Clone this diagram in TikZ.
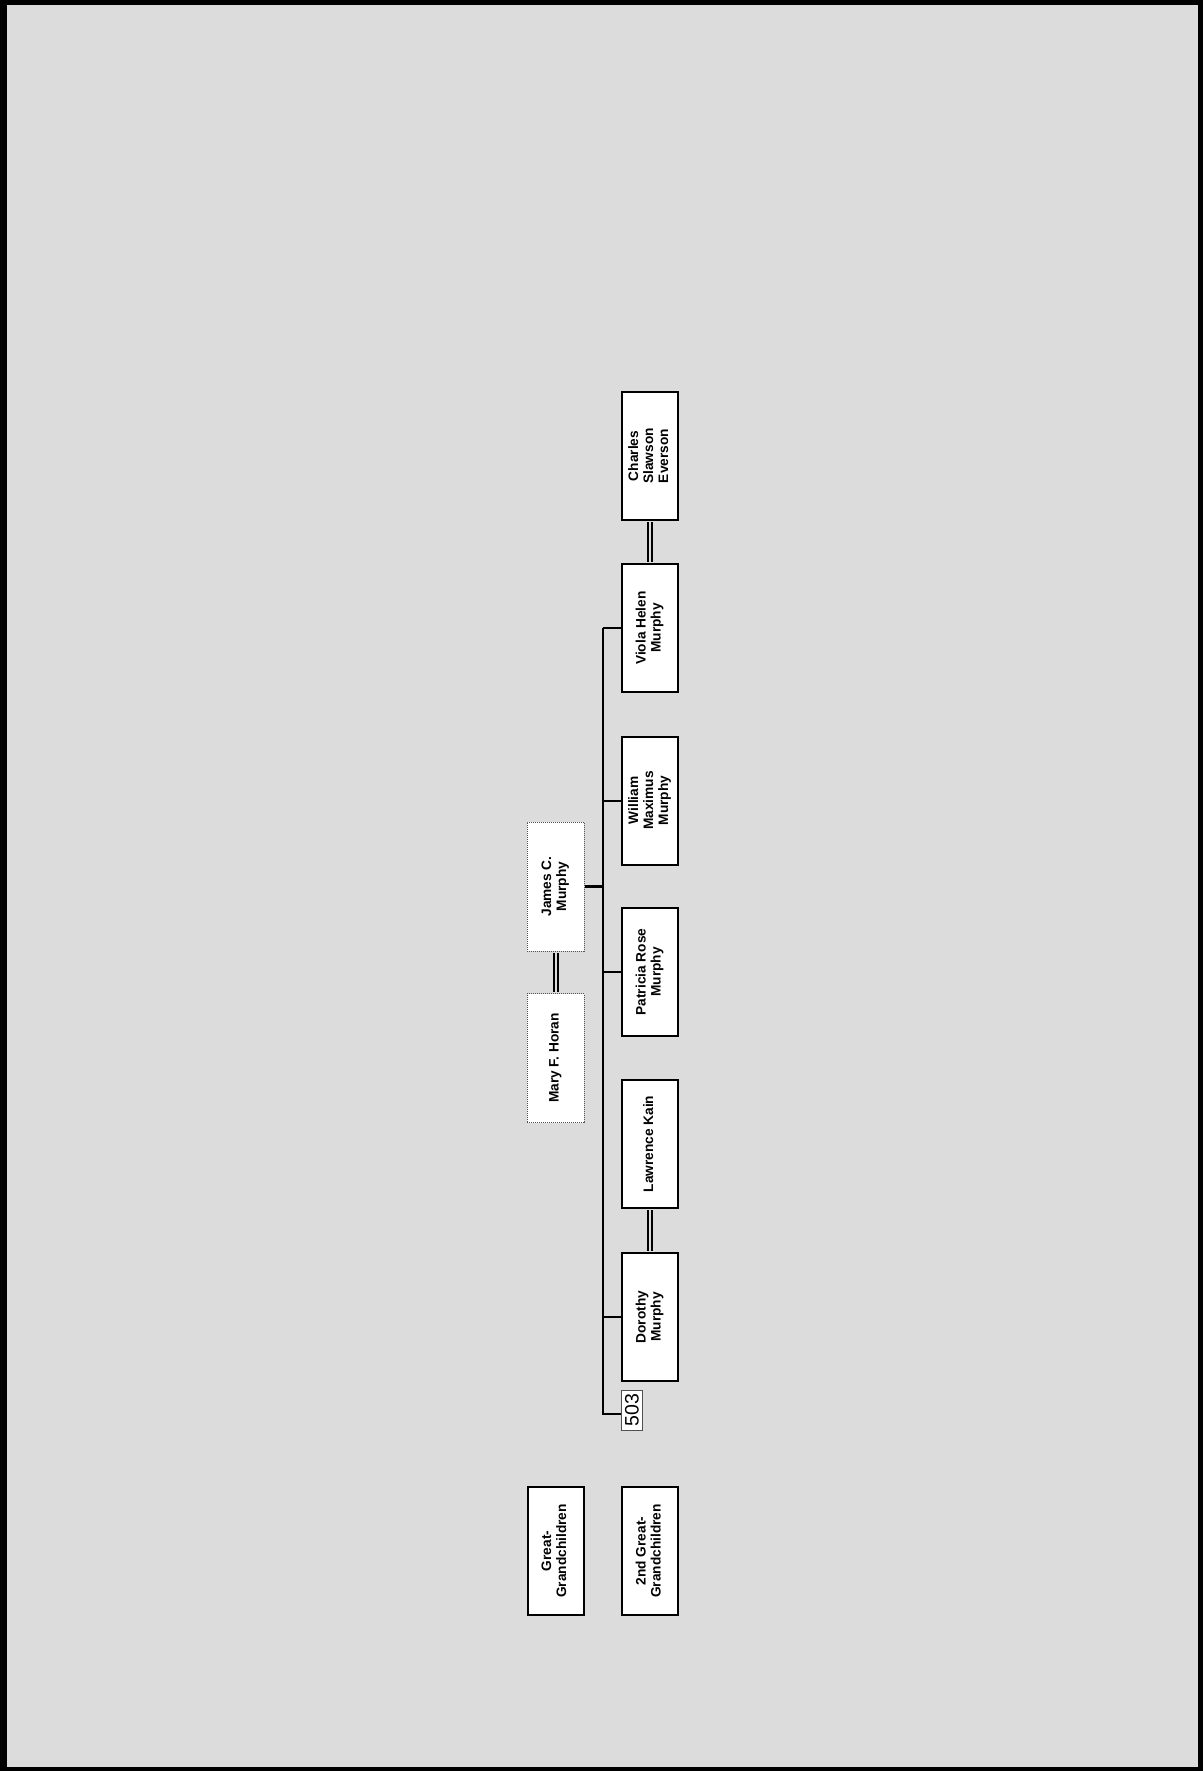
\documentclass[tikz,border=0pt]{standalone}
\usepackage{fontspec}
\setmainfont{Liberation Sans}
\usepackage{graphicx}
\usepackage{xcolor}
\usetikzlibrary{positioning,calc}
\definecolor{panelgray}{RGB}{220,220,220}
\definecolor{dotgray}{RGB}{80,80,80}
\newcommand\vlab[1]{\rotatebox{90}{\begin{tabular}{@{}c@{}}#1\end{tabular}}}
\tikzset{
  person/.style   = {draw, line width=2pt, fill=white, rectangle, inner sep=0pt,
                     minimum width=56pt, minimum height=128pt,
                     font=\fontsize{13.7}{15}\selectfont\bfseries},
  ancestor/.style = {person, draw=dotgray, line width=1pt, densely dotted,
                     minimum width=57pt, minimum height=129pt},
  idbox/.style    = {draw=dotgray, line width=1pt, fill=white, inner sep=0pt,
                     minimum width=21pt, minimum height=40pt,
                     font=\fontsize{19.5}{20}\selectfont},
  kin/.style      = {line width=2pt},
  wed/.style      = {draw=black, line width=2pt, double=panelgray, double distance=2pt,
                     shorten <=1pt, shorten >=1pt},
}

\begin{document}
\begin{tikzpicture}[x=1pt,y=-1pt]
\useasboundingbox (0,0) rectangle (1203,1771);
% frame
\fill[black] (0,0) rectangle (1203,1771);
\fill[panelgray] (7,5) rectangle (1198,1767);

% parents
\node[ancestor] (james) at (555.5,886.5) {\vlab{James C.\\Murphy}};
\node[ancestor] (mary) at (555.5,1058) {\vlab{Mary F. Horan}};

% children and spouses
\node[person] (charles) at (650,456) {\vlab{Charles\\Slawson\\Everson}};
\node[person] (viola) at (650,628) {\vlab{Viola Helen\\Murphy}};
\node[person] (william) at (650,800.5) {\vlab{William\\Maximus\\Murphy}};
\node[person] (patricia) at (650,972) {\vlab{Patricia Rose\\Murphy}};
\node[person] (lawrence) at (650,1144) {\vlab{Lawrence Kain}};
\node[person] (dorothy) at (650,1317) {\vlab{Dorothy\\Murphy}};
\node[idbox] (n503) at (632,1410) {\rotatebox{90}{503}};

% generation labels
\node[person] (gg) at (555.5,1551) {\vlab{Great-\\Grandchildren}};
\node[person] (ggg) at (650,1551) {\vlab{2nd Great-\\Grandchildren}};

% family lines
\coordinate (trunk) at (603,886.5);
\coordinate (tail) at (603,1414);
\draw[wed] (james.south) -- (mary.north);
\draw[wed] (charles.south) -- (viola.north);
\draw[wed] (lawrence.south) -- (dorothy.north);
\draw[line width=3pt] (james.east) -- (trunk);
\draw[kin] (trunk |- viola.west) -- (tail) -- (tail -| n503.west);
\draw[kin] (trunk |- viola.west) -- (viola.west);
\draw[kin] (trunk |- william.west) -- (william.west);
\draw[kin] (trunk |- patricia.west) -- (patricia.west);
\draw[kin] (trunk |- dorothy.west) -- (dorothy.west);
\end{tikzpicture}
\end{document}
